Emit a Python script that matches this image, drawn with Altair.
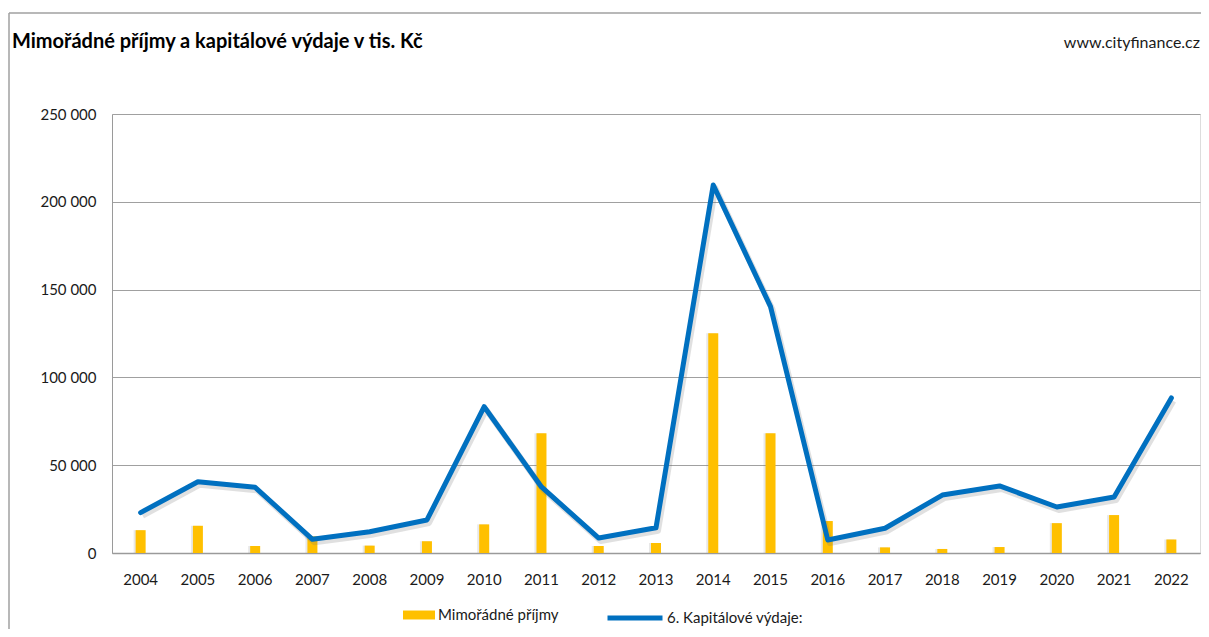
import altair as alt
import pandas as pd

years = [str(y) for y in range(2004, 2023)]
mimoradne = [13000, 15500, 4000, 9500, 4200, 6700, 16300, 68200, 4000, 5700,
             125100, 68200, 18200, 3200, 2300, 3400, 17000, 21600, 7700]
kapitalove = [23000, 40600, 37400, 7800, 12100, 18800, 83300, 37600, 8500, 14400,
              209600, 140300, 7400, 14100, 33000, 38200, 26200, 31900, 88300]
bar_name = "Mimořádné příjmy"
line_name = "6. Kapitálové výdaje:"
title_text = "Mimořádné příjmy a kapitálové výdaje v tis. Kč"
source_text = "www.cityfinance.cz"
y_ticks = [0, 50000, 100000, 150000, 200000, 250000]

df = pd.DataFrame({
    "rok": years,
    "mim": mimoradne,
    "kap": kapitalove,
    "s1": [bar_name] * len(years),
    "s2": [line_name] * len(years),
})

FONT = "Lato"
W, H = 1088, 439

x_enc = alt.X("rok:N", sort=years, title=None,
              scale=alt.Scale(paddingInner=0, paddingOuter=0),
              axis=alt.Axis(labelAngle=0, ticks=False, labelPadding=19,
                            labelFontSize=15, labelColor="#1a1a1a", labelFont=FONT,
                            domainColor="#9a9a9a", domainWidth=1.5, grid=False))
y_scale = alt.Scale(domain=[0, 250000], nice=False)
y_axis = alt.Axis(values=y_ticks, ticks=False, labelPadding=16, labelFontSize=15,
                  labelColor="#1a1a1a", labelFont=FONT, domainColor="#9a9a9a",
                  gridColor="#a0a0a0", gridWidth=1,
                  labelExpr="replace(format(datum.value, ','), regexp(',', 'g'), ' ')")

base = alt.Chart(df)

bar_shadow = base.mark_bar(size=10, color="#808080", opacity=0.18, xOffset=-2).encode(
    x=x_enc, y=alt.Y("mim:Q", scale=y_scale, axis=y_axis, title=None))

bars = base.mark_bar(size=10).encode(
    x=x_enc,
    y=alt.Y("mim:Q", scale=y_scale, axis=y_axis, title=None),
    color=alt.Color("s1:N", scale=alt.Scale(domain=[bar_name], range=["#FFC000"]),
                    legend=alt.Legend(title=None, orient="none", legendX=291, legendY=485,
                                      padding=0, symbolType="M-1,-0.28H1V0.28H-1Z",
                                      symbolSize=1024, symbolStrokeWidth=0,
                                      labelFontSize=15, labelFont=FONT,
                                      labelColor="#1a1a1a", labelOffset=3)))

line_shadow = base.mark_line(color="#707070", opacity=0.22, strokeWidth=6,
                             xOffset=2, yOffset=3, strokeJoin="round").encode(
    x=x_enc, y=alt.Y("kap:Q", scale=y_scale, axis=y_axis, title=None))

line = base.mark_line(strokeWidth=5, strokeJoin="round", strokeCap="round").encode(
    x=x_enc,
    y=alt.Y("kap:Q", scale=y_scale, axis=y_axis, title=None),
    stroke=alt.Stroke("s2:N", scale=alt.Scale(domain=[line_name], range=["#0070C0"]),
                      legend=alt.Legend(title=None, orient="none", legendX=493, legendY=474,
                                        padding=0, symbolType="stroke", symbolSize=3025,
                                        symbolStrokeWidth=5, labelFontSize=15,
                                        labelFont=FONT, labelColor="#1a1a1a",
                                        labelOffset=2)))

txt = pd.DataFrame({"t": [title_text], "s": [source_text]})
title = alt.Chart(txt).mark_text(align="left", baseline="alphabetic", fontSize=20,
                                 fontWeight="bold", font=FONT, color="#000000").encode(
    text="t:N", x=alt.value(-100), y=alt.value(-66))
source = alt.Chart(txt).mark_text(align="right", baseline="alphabetic", fontSize=16,
                                  font=FONT, color="#1a1a1a").encode(
    text="s:N", x=alt.value(1088), y=alt.value(-66))

border_left = alt.Chart(txt).mark_rule(color="#a0a0a0", strokeWidth=1.5).encode(
    x=alt.value(-103), y=alt.value(-101), y2=alt.value(530))
border_top = alt.Chart(txt).mark_rule(color="#a0a0a0", strokeWidth=1.5).encode(
    x=alt.value(-103), x2=alt.value(1089), y=alt.value(-101))

chart = alt.layer(bar_shadow, bars, line_shadow, line, title, source,
                  border_left, border_top).resolve_scale(
    color="independent", stroke="independent").properties(
    width=W, height=H,
    autosize=alt.AutoSizeParams(type="none"),
    padding={"left": 104, "top": 106, "right": 1, "bottom": 76},
).configure_view(stroke=None).configure(background="white")

chart.save("out.html", embed_options={"renderer": "svg", "actions": False})
